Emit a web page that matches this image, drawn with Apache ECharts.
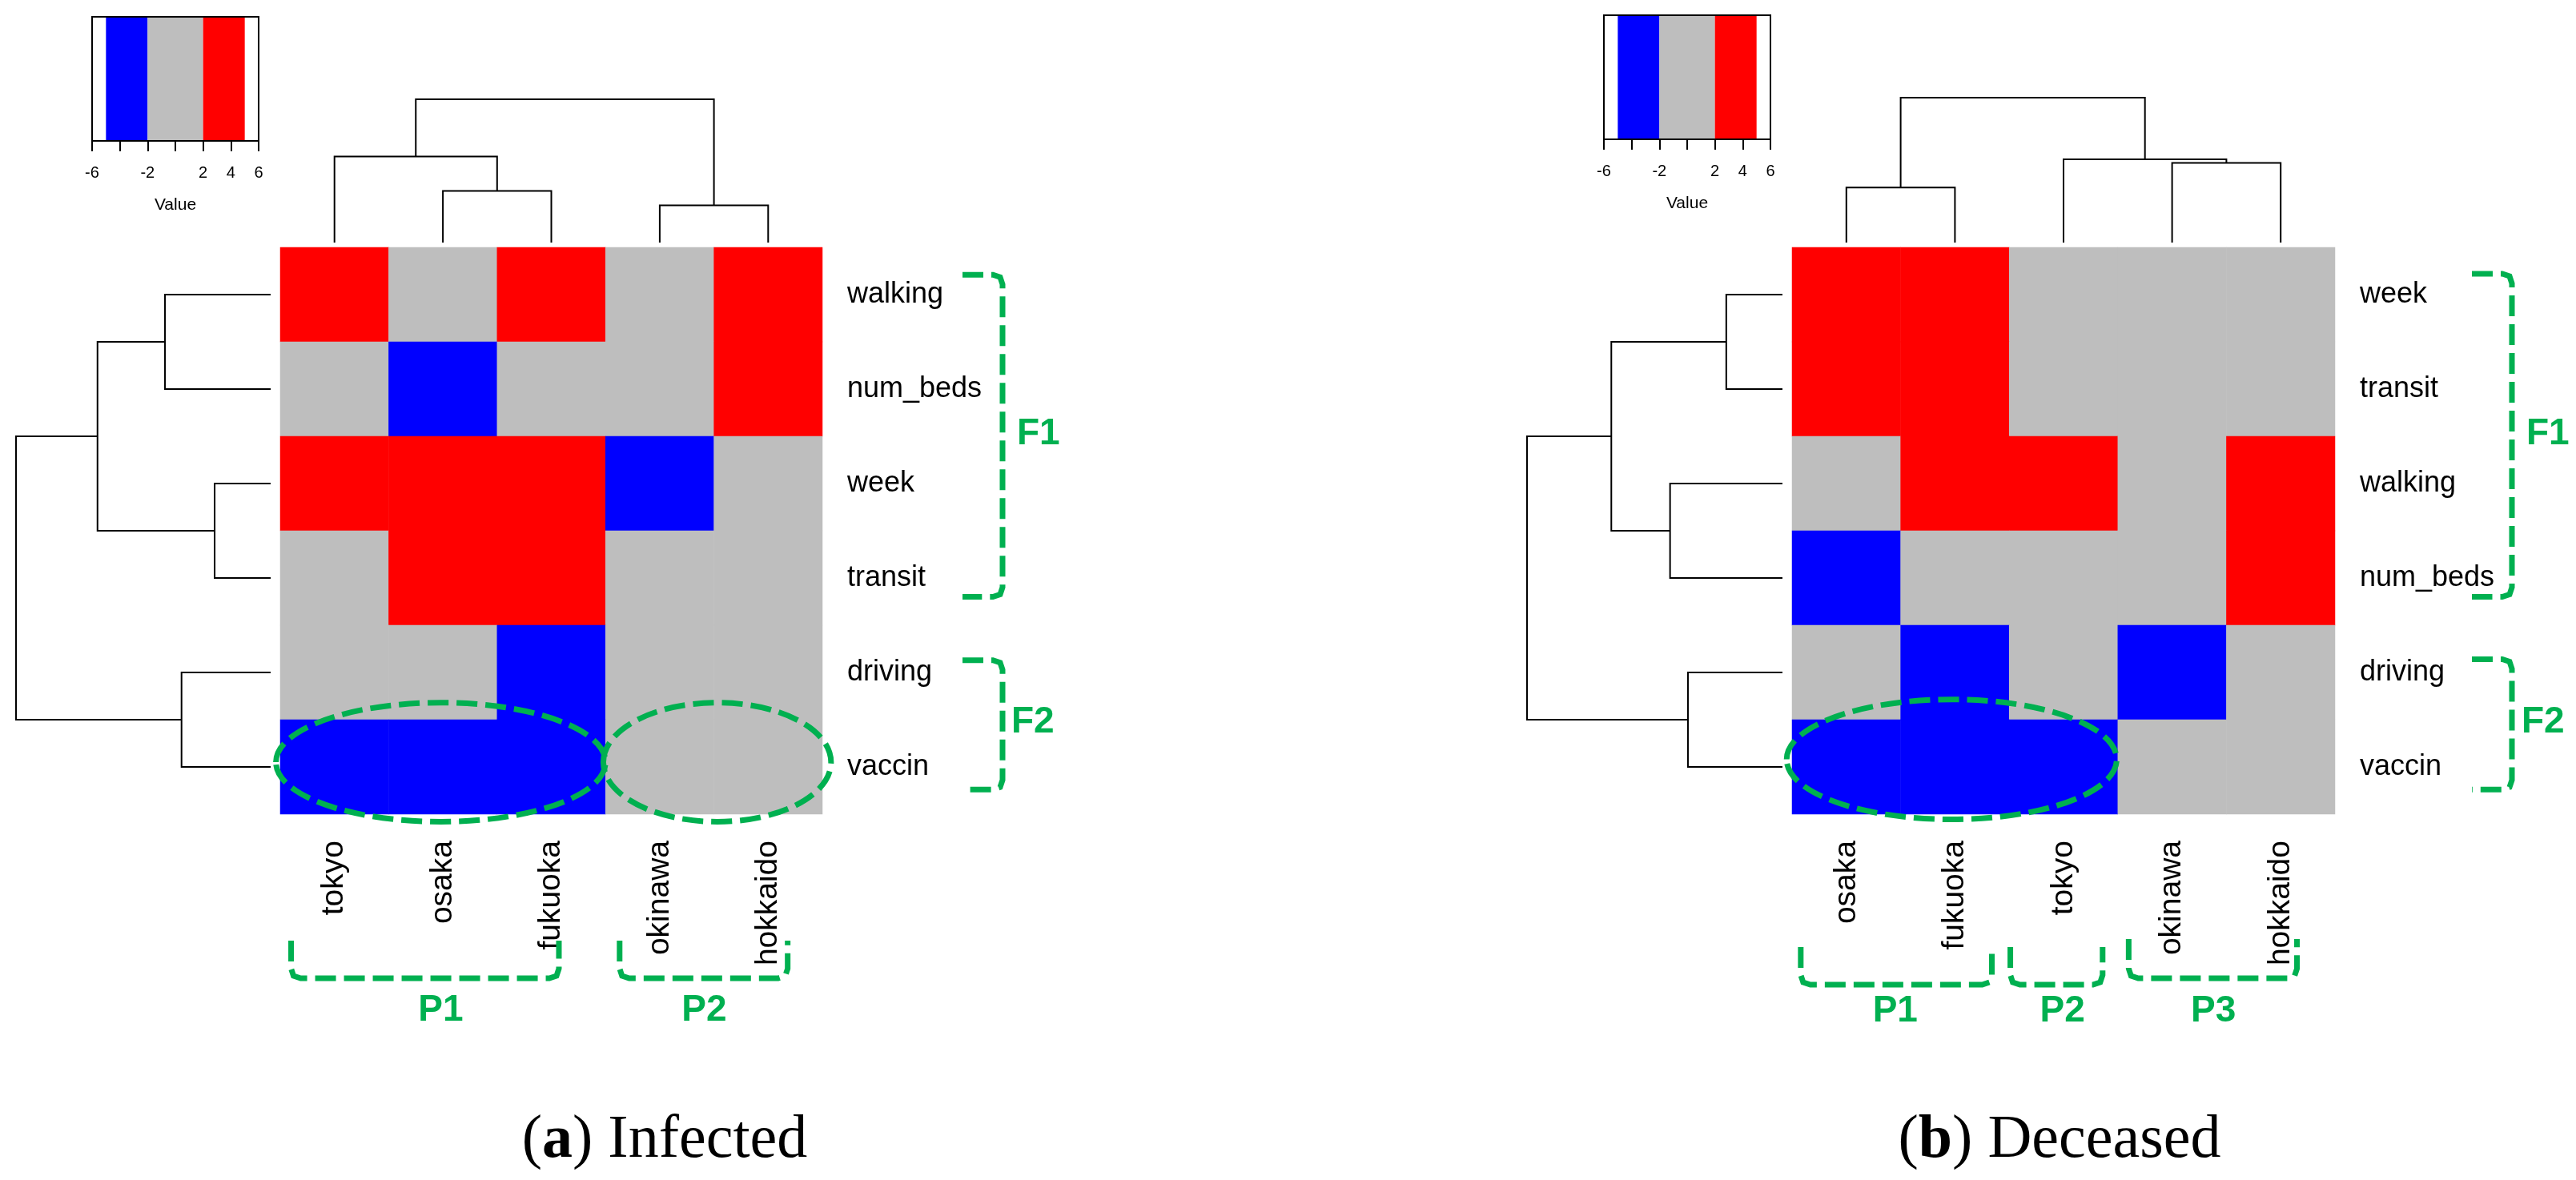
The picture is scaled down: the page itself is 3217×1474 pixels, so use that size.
<!DOCTYPE html>
<html><head><meta charset="utf-8">
<script src="https://cdn.jsdelivr.net/npm/echarts@6/dist/echarts.min.js"></script>
<style>html,body{margin:0;padding:0;background:#fff}#c{width:3217px;height:1474px}</style>
</head><body><div id="c"></div><script>
// ---------------- data ----------------
const colsA = ['tokyo','osaka','fukuoka','okinawa','hokkaido'];
const rowsA = ['walking','num_beds','week','transit','driving','vaccin'];
const valuesA = [
  [4, 0, 4, 0, 4],
  [0,-4, 0, 0, 4],
  [4, 4, 4,-4, 0],
  [0, 4, 4, 0, 0],
  [0, 0,-4, 0, 0],
  [-4,-4,-4, 0, 0]
];
const colsB = ['osaka','fukuoka','tokyo','okinawa','hokkaido'];
const rowsB = ['week','transit','walking','num_beds','driving','vaccin'];
const valuesB = [
  [4, 4, 0, 0, 0],
  [4, 4, 0, 0, 0],
  [0, 4, 4, 0, 4],
  [-4, 0, 0, 0, 4],
  [0,-4, 0,-4, 0],
  [-4,-4,-4, 0, 0]
];
// hclust-style merges: negative = leaf (1-based), positive = earlier merge (1-based), then height
const rowMergeA = [[-1,-2,4.15],[-3,-4,2.2],[-5,-6,3.5],[1,2,6.8],[4,3,10]];
const colMergeA = [[-2,-3,3.6],[-4,-5,2.6],[-1,1,6.0],[3,2,10]];
const rowMergeB = [[-1,-2,2.2],[-3,-4,4.4],[-5,-6,3.7],[1,2,6.7],[4,3,10]];
const colMergeB = [[-1,-2,3.8],[-4,-5,5.5],[-3,2,5.75],[1,3,10]];
const keyTicks = [-6,-4,-2,0,2,4,6];
const keyTickLabels = ['-6','','-2','','2','4','6'];
const keyBreaks = [-5,-2,2,5];
const keyColors = ['#0000FF','#BEBEBE','#FF0000'];
const captionA = ['a','Infected'];
const captionB = ['b','Deceased'];

// ---------------- helpers ----------------
const SANS = 'Liberation Sans, Arial, sans-serif';
const GREEN = '#00B050';
function dendroSegments(merges, horizontal) {
  const pos = [], ht = [], segs = [];
  const get = id => id < 0 ? [(-id - 1) + 0.5, 0] : [pos[id - 1], ht[id - 1]];
  merges.forEach(([a, b, h]) => {
    const [pa, ha] = get(a), [pb, hb] = get(b);
    const pts = [[pa, ha], [pa, h], [pb, h], [pb, hb]];
    segs.push({ coords: horizontal ? pts.map(p => [p[1], p[0]]) : pts });
    pos.push((pa + pb) / 2); ht.push(h);
  });
  return segs;
}
function heatData(vals) {
  const d = [];
  vals.forEach((row, r) => row.forEach((v, c) => d.push([c, r, v])));
  return d;
}
const hidden = { show: false };

function panel(p) {
  // p: layout and data for one panel; returns grids, axes, series
  const grids = [
    { left: p.hx, top: p.hy, width: p.hw, height: p.hh },
    { left: p.rdx, top: p.hy, width: p.hx - 12 - p.rdx, height: p.hh },
    { left: p.hx, top: p.cdy, width: p.hw, height: p.hy - 6 - p.cdy },
    { left: p.kx, top: p.ky, width: 208, height: 155 }
  ];
  const xAxes = [
    { type: 'category', data: p.cols, position: 'bottom', axisLine: hidden, axisTick: hidden, splitLine: hidden,
      axisLabel: { rotate: 90, fontSize: 39, color: '#000', margin: 33, fontFamily: SANS } },
    { type: 'value', min: 0, max: 10, inverse: true, show: false },
    { type: 'value', min: 0, max: 5, show: false },
    { type: 'value', min: -6, max: 6, interval: 2, splitLine: hidden,
      axisLine: { show: true, lineStyle: { color: '#000', width: 2 } },
      axisTick: { show: true, length: 13, lineStyle: { color: '#000', width: 2 } },
      axisLabel: { fontSize: 20, color: '#000', margin: 30, fontFamily: SANS,
        formatter: v => keyTickLabels[keyTicks.indexOf(v)] || '' },
      name: 'Value', nameLocation: 'middle', nameGap: 70,
      nameTextStyle: { fontSize: 21, color: '#000', fontFamily: SANS } }
  ];
  const yAxes = [
    { type: 'category', data: p.rows, inverse: true, position: 'right', axisLine: hidden, axisTick: hidden, splitLine: hidden,
      axisLabel: { fontSize: 36, color: '#000', margin: 31, fontFamily: SANS } },
    { type: 'value', min: 0, max: 6, inverse: true, show: false },
    { type: 'value', min: 0, max: 10, show: false },
    { type: 'value', min: 0, max: 1, show: false }
  ];
  return { grids, xAxes, yAxes };
}

const P = [
  { hx: 350, hy: 309, hw: 677, hh: 708, rdx: 20, cdy: 124, kx: 115, ky: 21,
    cols: colsA, rows: rowsA, vals: valuesA, rm: rowMergeA, cm: colMergeA },
  { hx: 2238, hy: 309, hw: 678, hh: 708, rdx: 1907, cdy: 122, kx: 2003, ky: 19,
    cols: colsB, rows: rowsB, vals: valuesB, rm: rowMergeB, cm: colMergeB }
];

const grid = [], xAxis = [], yAxis = [], series = [];
P.forEach((p, i) => {
  const r = panel(p);
  const base = i * 4;
  r.grids.forEach(g => grid.push(g));
  r.xAxes.forEach((a, k) => xAxis.push(Object.assign({ gridIndex: base + k }, a)));
  r.yAxes.forEach((a, k) => yAxis.push(Object.assign({ gridIndex: base + k }, a)));
  series.push({ type: 'heatmap', xAxisIndex: base, yAxisIndex: base, data: heatData(p.vals),
    itemStyle: { borderWidth: 0 }, emphasis: { disabled: true }, silent: true });
  series.push({ type: 'lines', coordinateSystem: 'cartesian2d', xAxisIndex: base + 1, yAxisIndex: base + 1,
    polyline: true, data: dendroSegments(p.rm, true), lineStyle: { color: '#000', width: 2, opacity: 1 }, silent: true });
  series.push({ type: 'lines', coordinateSystem: 'cartesian2d', xAxisIndex: base + 2, yAxisIndex: base + 2,
    polyline: true, data: dendroSegments(p.cm, false), lineStyle: { color: '#000', width: 2, opacity: 1 }, silent: true });
  series.push({ type: 'custom', xAxisIndex: base + 3, yAxisIndex: base + 3, silent: true,
    data: keyColors.map((c, j) => [keyBreaks[j], keyBreaks[j + 1], j]),
    renderItem: (params, api) => {
      const a = api.coord([api.value(0), 1]), b = api.coord([api.value(1), 0]);
      return { type: 'rect', shape: { x: a[0], y: a[1], width: b[0] - a[0], height: b[1] - a[1] },
        style: { fill: keyColors[api.value(2)] } };
    } });
  series.push({ type: 'custom', xAxisIndex: base + 3, yAxisIndex: base + 3, silent: true, z: 5,
    data: [[keyTicks[0], keyTicks[keyTicks.length - 1]]],
    renderItem: (params, api) => {
      const a = api.coord([api.value(0), 1]), b = api.coord([api.value(1), 0]);
      return { type: 'rect', shape: { x: a[0], y: a[1], width: b[0] - a[0], height: b[1] - a[1] },
        style: { fill: 'none', stroke: '#000', lineWidth: 2 } };
    } });
});

const chart = echarts.init(document.getElementById('c'), null, { renderer: 'canvas' });
chart.setOption({
  backgroundColor: '#fff',
  animation: false,
  grid, xAxis, yAxis, series,
  visualMap: [{
    type: 'piecewise', show: false, seriesIndex: [0, 5], dimension: 2,
    pieces: [
      { lt: keyBreaks[1], color: keyColors[0] },
      { gte: keyBreaks[1], lte: keyBreaks[2], color: keyColors[1] },
      { gt: keyBreaks[2], color: keyColors[2] }
    ]
  }]
});

// ---------------- annotations (green) ----------------
const ANN = [
  { g: 0, ell: [[1.48, 5.45, 1.52, 0.63], [4.03, 5.45, 1.05, 0.63]],
    F: [{ dx1: 175, dx2: 225, v1: 0.29, v2: 3.70, lx: 243, lv: 1.98, t: 'F1' },
        { dx1: 175, dx2: 225, v1: 4.37, v2: 5.74, lx: 236, lv: 5.03, t: 'F2' }],
    Pb: [{ u1: 0.10, u2: 2.57, dy1: 158, dy2: 205, lu: 1.48, t: 'P1' },
         { u1: 3.13, u2: 4.68, dy1: 158, dy2: 205, lu: 3.91, t: 'P2' }],
    ly: 245, cap: { x: 830, y: 1425, c: captionA } },
  { g: 4, ell: [[1.47, 5.42, 1.52, 0.635]],
    F: [{ dx1: 171, dx2: 221, v1: 0.28, v2: 3.70, lx: 239, lv: 1.98, t: 'F1' },
        { dx1: 171, dx2: 221, v1: 4.36, v2: 5.74, lx: 233, lv: 5.03, t: 'F2' }],
    Pb: [{ u1: 0.08, u2: 1.84, dy1: 166, dy2: 213, lu: 0.95, t: 'P1' },
         { u1: 2.01, u2: 2.86, dy1: 166, dy2: 213, lu: 2.49, t: 'P2' },
         { u1: 3.10, u2: 4.65, dy1: 156, dy2: 205, lu: 3.88, t: 'P3' }],
    ly: 246, cap: { x: 2572, y: 1425, c: captionB } }
];
const dashStyle = { fill: 'none', stroke: GREEN, lineWidth: 7, lineDash: [26, 10], lineCap: 'butt' };
const graphics = [];
ANN.forEach((a, i) => {
  const p = P[i];
  const c0 = chart.convertToPixel({ gridIndex: a.g }, [p.cols[0], p.rows[0]]);
  const c1 = chart.convertToPixel({ gridIndex: a.g }, [p.cols[1], p.rows[1]]);
  const cw = c1[0] - c0[0], ch = c1[1] - c0[1];
  const L = c0[0] - cw / 2, T = c0[1] - ch / 2;
  const R = L + cw * p.cols.length, B = T + ch * p.rows.length;
  a.ell.forEach(e => graphics.push({ type: 'ellipse', z: 100,
    shape: { cx: L + e[0] * cw, cy: T + e[1] * ch, rx: e[2] * cw, ry: e[3] * ch }, style: dashStyle }));
  const r = 12;
  a.F.forEach(f => {
    const x1 = R + f.dx1, x2 = R + f.dx2, y1 = T + f.v1 * ch, y2 = T + f.v2 * ch;
    graphics.push({ type: 'polyline', z: 100, shape: { points: [[x1, y1], [x2 - r, y1], [x2 - 3, y1 + 3], [x2, y1 + r], [x2, y2 - r], [x2 - 3, y2 - 3], [x2 - r, y2], [x1, y2]] }, style: dashStyle });
    graphics.push({ type: 'text', z: 100, style: { text: f.t, x: R + f.lx, y: T + f.lv * ch, fill: GREEN,
      font: 'bold 46px ' + SANS, textAlign: 'left', textVerticalAlign: 'middle', align: 'left', verticalAlign: 'middle' } });
  });
  a.Pb.forEach(q => {
    const x1 = L + q.u1 * cw, x2 = L + q.u2 * cw, y1 = B + q.dy1, y2 = B + q.dy2;
    graphics.push({ type: 'polyline', z: 100, shape: { points: [[x1, y1], [x1, y2 - r], [x1 + 3, y2 - 3], [x1 + r, y2], [x2 - r, y2], [x2 - 3, y2 - 3], [x2, y2 - r], [x2, y1]] }, style: dashStyle });
    graphics.push({ type: 'text', z: 100, style: { text: q.t, x: L + q.lu * cw, y: B + a.ly, fill: GREEN,
      font: 'bold 46px ' + SANS, textAlign: 'center', textVerticalAlign: 'middle', align: 'center', verticalAlign: 'middle' } });
  });
  const capFont = { fontSize: 76, fontFamily: 'Liberation Serif, Times New Roman, serif', fill: '#000', color: '#000' };
  graphics.push({ type: 'text', z: 100, style: {
    text: '{n|(}{b|' + a.cap.c[0] + '}{n|) ' + a.cap.c[1] + '}', x: a.cap.x, y: a.cap.y,
    fontSize: 76, fontFamily: 'Liberation Serif, serif',
    textAlign: 'center', textVerticalAlign: 'middle', align: 'center', verticalAlign: 'middle',
    rich: { n: Object.assign({}, capFont), b: Object.assign({ fontWeight: 'bold' }, capFont) } } });
});
chart.setOption({ graphic: graphics });
</script></body></html>
